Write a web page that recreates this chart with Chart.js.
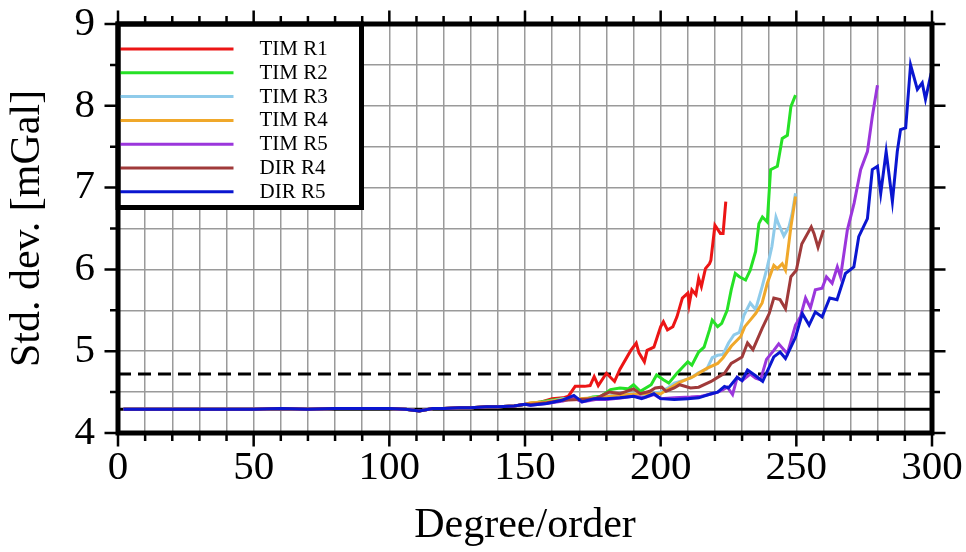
<!DOCTYPE html>
<html>
<head>
<meta charset="utf-8">
<script src="https://cdn.jsdelivr.net/npm/chart.js@4.4.1/dist/chart.umd.min.js"></script>
<style>
  html, body { margin: 0; padding: 0; background: #ffffff; }
  #wrap { width: 966px; height: 552px; position: relative; }
</style>
</head>
<body>
<div id="wrap"><canvas id="c" width="966" height="552"></canvas></div>
<script>
// ---- common low-degree part (all solutions coincide) ----
const earlyDeg = [2, 10, 20, 30, 40, 50, 60, 70, 80, 90, 100, 106, 111, 116, 120, 126, 130, 136, 140, 146, 150];
const earlyVal = [4.29, 4.29, 4.29, 4.29, 4.29, 4.29, 4.30, 4.29, 4.30, 4.30, 4.30, 4.29, 4.27, 4.30, 4.30, 4.31, 4.31, 4.32, 4.32, 4.33, 4.35];

// ---- TIM R1 ----
const timR1Deg = [152, 156, 160, 164, 166, 168.5, 172, 174, 175.5, 177, 180, 183, 185, 189, 191, 192, 194, 195, 197.5, 200, 201, 202.5, 204.5, 206, 208, 210, 210.5, 211.5, 213, 214, 215, 216.5, 218, 218.5, 220, 222, 223, 224];
const timR1Val = [4.36, 4.38, 4.42, 4.43, 4.45, 4.57, 4.57, 4.58, 4.69, 4.58, 4.73, 4.63, 4.78, 5.01, 5.10, 4.98, 4.87, 5.01, 5.05, 5.30, 5.36, 5.26, 5.30, 5.42, 5.65, 5.71, 5.57, 5.75, 5.69, 5.89, 5.79, 6.01, 6.07, 6.11, 6.54, 6.44, 6.44, 6.83];

// ---- TIM R2 ----
const timR2Deg = [152, 158, 163.5, 168, 171, 175, 178, 181.5, 185, 188, 190, 192.5, 196.5, 198.5, 201, 203, 206, 208, 210, 211.5, 214, 216, 218, 219, 221, 222.5, 224.5, 226, 227.5, 229, 231.3, 233, 235, 236.2, 237.5, 239.3, 240.5, 243, 244.8, 246.7, 248, 249.7];
const timR2Val = [4.36, 4.39, 4.42, 4.42, 4.40, 4.44, 4.45, 4.53, 4.55, 4.54, 4.59, 4.51, 4.59, 4.71, 4.65, 4.61, 4.73, 4.80, 4.87, 4.83, 4.99, 5.05, 5.26, 5.38, 5.30, 5.34, 5.50, 5.75, 5.95, 5.91, 5.87, 5.99, 6.22, 6.56, 6.64, 6.58, 7.22, 7.26, 7.60, 7.64, 7.99, 8.13];

// ---- TIM R3 ----
const timR3Deg = [152, 158, 164, 170, 176, 182, 188, 194, 200, 203, 205, 208, 211, 214, 217, 219, 221, 223, 225, 227, 229, 230.7, 233, 235, 237.4, 239.3, 241, 242.5, 243.5, 245.4, 247.3, 248.5, 249.7];
const timR3Val = [4.36, 4.38, 4.42, 4.41, 4.43, 4.46, 4.48, 4.47, 4.50, 4.56, 4.61, 4.64, 4.67, 4.74, 4.78, 4.92, 4.95, 4.96, 5.10, 5.20, 5.23, 5.44, 5.59, 5.51, 5.79, 6.03, 6.28, 6.64, 6.55, 6.41, 6.52, 6.69, 6.93];

// ---- TIM R4 ----
const timR4Deg = [152, 158, 164, 170, 176, 182, 188, 194, 200, 203, 207, 212, 217, 221, 223, 226, 229.5, 231, 233, 235, 237.4, 239.3, 241.7, 243, 244.8, 246, 248, 249.7];
const timR4Val = [4.37, 4.38, 4.41, 4.42, 4.43, 4.45, 4.47, 4.48, 4.48, 4.54, 4.62, 4.69, 4.79, 4.85, 4.92, 5.06, 5.18, 5.30, 5.38, 5.46, 5.59, 5.83, 6.05, 6.01, 6.07, 5.99, 6.52, 6.89];

// ---- TIM R5 ----
const timR5Deg = [152, 158, 164, 168, 171, 176, 180, 186, 190, 194, 197.5, 200, 205, 211, 215, 219, 221, 222.5, 224.6, 226.5, 228.2, 230, 233, 235, 236.8, 239, 241.7, 243.5, 246.7, 249.7, 251.5, 253.4, 255.2, 257, 259.5, 261.1, 263.2, 265.1, 266.3, 268.8, 271.3, 273.7, 276.2, 278, 279.9];
const timR5Val = [4.34, 4.36, 4.39, 4.43, 4.38, 4.41, 4.41, 4.43, 4.45, 4.43, 4.47, 4.42, 4.43, 4.44, 4.45, 4.48, 4.50, 4.52, 4.56, 4.47, 4.68, 4.64, 4.72, 4.67, 4.65, 4.90, 5.01, 5.09, 4.97, 5.32, 5.42, 5.65, 5.53, 5.75, 5.77, 5.91, 5.83, 6.03, 5.91, 6.48, 6.81, 7.22, 7.44, 7.87, 8.25];

// ---- DIR R4 ----
const dirR4Deg = [152, 158, 164, 170, 176, 181, 185, 190, 192.5, 196, 198, 200.4, 202, 205, 207, 211, 214, 218.6, 221, 223.5, 226, 228, 230, 232, 234, 237.4, 240, 241.7, 244, 246, 248, 250, 252, 255.5, 256.5, 258, 260];
const dirR4Val = [4.35, 4.37, 4.40, 4.41, 4.42, 4.50, 4.48, 4.54, 4.48, 4.51, 4.55, 4.56, 4.51, 4.55, 4.59, 4.55, 4.56, 4.63, 4.68, 4.73, 4.85, 4.89, 4.93, 5.10, 5.02, 5.28, 5.46, 5.65, 5.63, 5.52, 5.91, 5.99, 6.31, 6.52, 6.44, 6.27, 6.48];

// ---- DIR R5 ----
const dirR5Deg = [152, 158, 163.6, 168, 171, 175.5, 180, 185, 190, 193, 197.5, 200, 205, 210, 214, 218.6, 221, 223.5, 225, 228.2, 230, 232, 235, 237.6, 241.7, 244, 246, 249.7, 252.2, 254.7, 257, 259.5, 262.3, 265, 268.1, 271.2, 273, 276.2, 278, 279.9, 281.1, 283.1, 285.4, 287.2, 288.4, 290.3, 292.1, 294.6, 296.4, 297.6, 299.7];
const dirR5Val = [4.34, 4.36, 4.40, 4.46, 4.38, 4.42, 4.42, 4.43, 4.45, 4.42, 4.48, 4.42, 4.41, 4.42, 4.43, 4.48, 4.50, 4.57, 4.55, 4.68, 4.64, 4.77, 4.70, 4.63, 4.93, 4.99, 4.91, 5.17, 5.46, 5.32, 5.48, 5.42, 5.65, 5.63, 5.95, 6.03, 6.40, 6.62, 7.22, 7.26, 6.93, 7.44, 6.83, 7.44, 7.71, 7.73, 8.50, 8.20, 8.28, 8.08, 8.40];

const seriesNames  = ['TIM R1', 'TIM R2', 'TIM R3', 'TIM R4', 'TIM R5', 'DIR R4', 'DIR R5'];
const seriesColors = ['#ec1515', '#26e126', '#8fcbea', '#f0a82a', '#9b36dc', '#a03a3a', '#0a16d0'];
const seriesDegs   = [timR1Deg, timR2Deg, timR3Deg, timR4Deg, timR5Deg, dirR4Deg, dirR5Deg];
const seriesVals   = [timR1Val, timR2Val, timR3Val, timR4Val, timR5Val, dirR4Val, dirR5Val];

// reference levels [mGal]
const refSolidLevel  = 4.29;
const refDashedLevel = 4.72;

const xMin = 0, xMax = 300, xStep = 10, xLabelEvery = 50;
const yMin = 4, yMax = 9, yStep = 0.5;

const SERIF = '"Liberation Serif", "Times New Roman", serif';

function toPoints(degs, vals) {
  const pts = earlyDeg.map((d, i) => ({ x: d, y: earlyVal[i] }));
  return pts.concat(degs.map((d, i) => ({ x: d, y: vals[i] })));
}

const datasets = seriesNames.map((name, i) => ({
  label: name,
  data: toPoints(seriesDegs[i], seriesVals[i]),
  borderColor: seriesColors[i],
  backgroundColor: seriesColors[i],
  borderWidth: 3,
  pointRadius: 0,
  tension: 0,
  fill: false,
  order: seriesNames.length - i
}));
datasets.push({
  label: 'ref solid',
  data: [{ x: xMin, y: refSolidLevel }, { x: xMax, y: refSolidLevel }],
  borderColor: '#000', borderWidth: 3, pointRadius: 0, fill: false, order: 20
});
datasets.push({
  label: 'ref dashed',
  data: [{ x: xMin, y: refDashedLevel }, { x: xMax, y: refDashedLevel }],
  borderColor: '#000', borderWidth: 3, borderDash: [13, 7], pointRadius: 0, fill: false, order: 21
});

const framePlugin = {
  id: 'frameAndLegend',
  afterDatasetsDraw(chart) {
    const ctx = chart.ctx;
    const a = chart.chartArea;
    const xs = chart.scales.x, ys = chart.scales.y;
    ctx.save();
    // legend box
    const boxL = a.left, boxT = a.top, boxR = a.left + 243.5, boxB = a.top + 183.5;
    ctx.fillStyle = '#fff';
    ctx.fillRect(boxL, boxT, boxR - boxL, boxB - boxT);
    ctx.lineWidth = 5;
    ctx.strokeStyle = '#000';
    ctx.strokeRect(boxL, boxT, boxR - boxL, boxB - boxT);
    ctx.font = '21px ' + SERIF;
    ctx.textBaseline = 'middle';
    ctx.textAlign = 'left';
    seriesNames.forEach((name, i) => {
      const y = boxT + 25 + i * 23.8;
      ctx.beginPath();
      ctx.strokeStyle = seriesColors[i];
      ctx.lineWidth = 3;
      ctx.moveTo(boxL + 2, y);
      ctx.lineTo(boxL + 115.5, y);
      ctx.stroke();
      ctx.fillStyle = '#000';
      ctx.fillText(name, boxL + 141.5, y + 0.5);
    });
    // frame
    ctx.strokeStyle = '#000';
    ctx.lineWidth = 5;
    ctx.strokeRect(a.left, a.top, a.right - a.left, a.bottom - a.top);
    // ticks
    ctx.lineWidth = 2.5;
    ctx.beginPath();
    for (let v = xMin; v <= xMax; v += xStep) {
      const px = xs.getPixelForValue(v);
      const len = (v % xLabelEvery === 0) ? 13.5 : 8;
      ctx.moveTo(px, a.bottom); ctx.lineTo(px, a.bottom + len);
      ctx.moveTo(px, a.top); ctx.lineTo(px, a.top - len);
    }
    for (let v = yMin; v <= yMax + 1e-9; v += yStep) {
      const py = ys.getPixelForValue(v);
      const len = (Math.abs(v - Math.round(v)) < 1e-9) ? 13.5 : 8;
      ctx.moveTo(a.left, py); ctx.lineTo(a.left - len, py);
      ctx.moveTo(a.right, py); ctx.lineTo(a.right + len, py);
    }
    ctx.stroke();
    ctx.restore();
  }
};

new Chart(document.getElementById('c'), {
  type: 'line',
  data: { datasets },
  options: {
    responsive: false,
    animation: false,
    devicePixelRatio: 1,
    layout: { padding: { top: 24, right: 34, left: 0, bottom: 0 } },
    plugins: { legend: { display: false }, tooltip: { enabled: false } },
    scales: {
      x: {
        type: 'linear', min: xMin, max: xMax,
        afterFit: (s) => { s.height = 119; s.paddingLeft = 0; s.paddingRight = 0; },
        border: { display: false },
        grid: { color: '#9a9a9a', lineWidth: 1.5, drawTicks: false },
        ticks: {
          stepSize: xStep, autoSkip: false, maxRotation: 0, padding: 11,
          color: '#000', font: { family: SERIF, size: 41 },
          callback: (v) => (v % xLabelEvery === 0 ? String(v) : '')
        },
        title: { display: true, text: 'Degree/order', color: '#000', font: { family: SERIF, size: 42 }, padding: { top: 0, bottom: 1 } }
      },
      y: {
        type: 'linear', min: yMin, max: yMax,
        afterFit: (s) => { s.width = 118; s.paddingTop = 0; s.paddingBottom = 0; },
        border: { display: false },
        grid: { color: '#9a9a9a', lineWidth: 1.5, drawTicks: false },
        ticks: {
          stepSize: yStep, autoSkip: false, padding: 23,
          color: '#000', font: { family: SERIF, size: 41 },
          callback: (v) => (Number.isInteger(v) ? String(v) : '')
        },
        title: { display: true, text: 'Std. dev. [mGal]', color: '#000', font: { family: SERIF, size: 42 }, padding: { top: 3, bottom: 0 } }
      }
    }
  },
  plugins: [framePlugin]
});
</script>
</body>
</html>
